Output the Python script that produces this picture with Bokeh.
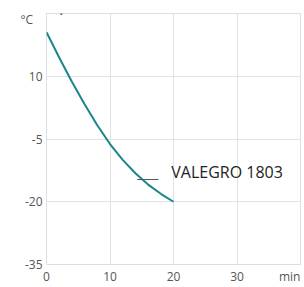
from bokeh.plotting import figure
from bokeh.models import Label, FixedTicker, Range1d
from bokeh.embed import file_html
from bokeh.resources import INLINE

# data
time_min = [0, 2, 4, 6, 8, 10, 12, 14, 16, 18, 20]
temp_c = [20.5, 14.5, 8.7, 3.3, -1.7, -6.2, -10.0, -13.2, -15.9, -18.1, -20.0]
x_ticks = [0, 10, 20, 30]
x_tick_labels = ["0", "10", "20", "30"]
y_ticks = [-35, -20, -5, 10]
y_tick_labels = ["-35", "-20", "-5", "10"]
series_name = "VALEGRO 1803"
title_text = "Temps de refroidissement"
subtitle_text = "Medula"
x_unit = "min"
y_unit = "°C"

FONT = "Open Sans"
GREY = "#555555"

# where the unit labels sit along the axes
X_UNIT_AT = 38.3
Y_UNIT_AT = 23.6

p = figure(width=304, height=287, output_backend="svg", toolbar_location=None,
           x_range=Range1d(0, 40), y_range=Range1d(-35, 25),
           min_border_left=46, min_border_right=4, min_border_top=13,
           min_border_bottom=15, background_fill_color="white",
           border_fill_color="white")

p.outline_line_color = "#d9dfe3"
p.outline_line_width = 1

for ax in (p.xaxis, p.yaxis):
    ax.axis_line_color = None
    ax.major_tick_line_color = None
    ax.minor_tick_line_color = None
    ax.major_tick_out = 0
    ax.major_tick_in = 0
    ax.minor_tick_out = 0
    ax.minor_tick_in = 0
    ax.major_label_text_font = FONT
    ax.major_label_text_font_size = "12px"
    ax.major_label_text_color = GREY

p.yaxis.ticker = FixedTicker(ticks=y_ticks + [Y_UNIT_AT])
y_over = dict(zip(y_ticks, y_tick_labels))
y_over[Y_UNIT_AT] = y_unit + "\u00a0\u00a0\u00a0"
p.yaxis.major_label_overrides = y_over
p.yaxis.major_label_standoff = 4

p.xaxis.ticker = FixedTicker(ticks=x_ticks + [X_UNIT_AT])
x_over = dict(zip(x_ticks, x_tick_labels))
x_over[X_UNIT_AT] = x_unit
p.xaxis.major_label_overrides = x_over
p.xaxis.major_label_standoff = 3
p.xaxis.major_label_text_line_height = 0.8

p.xgrid.ticker = FixedTicker(ticks=x_ticks)
p.ygrid.ticker = FixedTicker(ticks=y_ticks)
p.xgrid.grid_line_color = "#dfe4e7"
p.ygrid.grid_line_color = "#dfe4e7"

p.line(time_min, temp_c, line_color="#1a868c", line_width=2)

# series label
p.add_layout(Label(x=14.3, y=-13.0, text="___", text_font=FONT,
                   text_font_size="16px", text_color=GREY,
                   text_align="left", text_baseline="alphabetic"))
p.add_layout(Label(x=14.3, y=-13.0, x_offset=34, text=series_name, text_font=FONT,
                   text_font_size="16px", text_color="#222222",
                   text_align="left", text_baseline="alphabetic"))

# title, mostly above the visible area (screen units relative to the frame)
p.add_layout(Label(x=216, y=262, x_units="screen", y_units="screen", text=title_text,
                   text_font=FONT, text_font_size="20px", text_color=GREY,
                   text_align="right", text_baseline="alphabetic"))
p.add_layout(Label(x=221, y=261, x_units="screen", y_units="screen", text=subtitle_text,
                   text_font=FONT, text_font_size="13px", text_color=GREY,
                   text_align="left", text_baseline="alphabetic"))

open("out.html", "w").write(file_html(p, INLINE))
